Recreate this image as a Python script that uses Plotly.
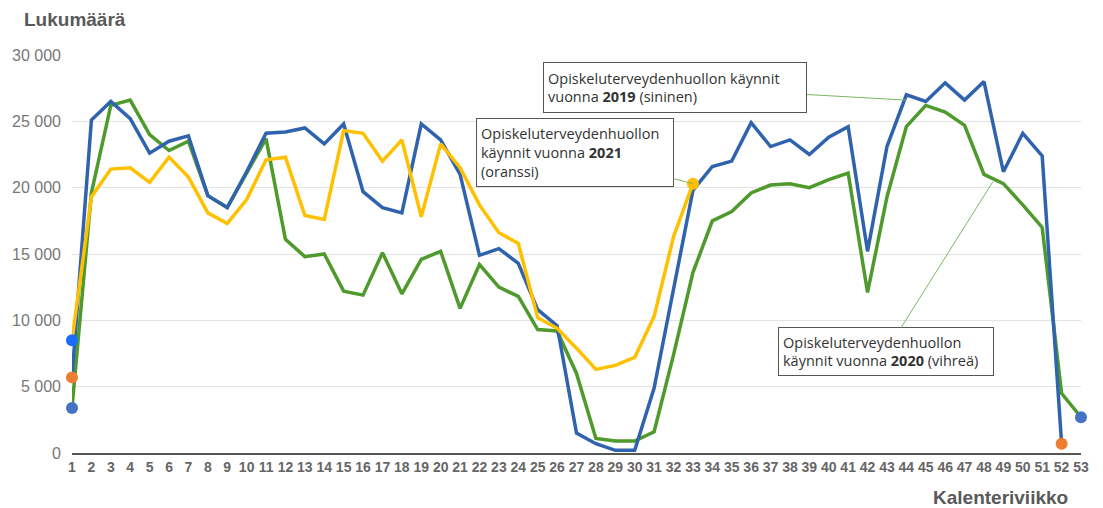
import plotly.graph_objects as go

weeks = list(range(1, 54))
tick_labels = [str(w) for w in weeks]

visits_2019 = [5700, 25100, 26500, 25200, 22600, 23500, 23900, 19400, 18500, 21200,
               24100, 24200, 24500, 23300, 24800, 19700, 18500, 18100, 24800, 23600,
               21000, 14900, 15400, 14300, 10800, 9600, 1500, 700, 200, 200,
               4900, 12300, 19800, 21600, 22000, 24900, 23100, 23600, 22500, 23800,
               24600, 15200, 23100, 27000, 26500, 27900, 26600, 28000, 21200, 24100,
               22400, 700, None]
visits_2020 = [3400, 19600, 26200, 26600, 24000, 22800, 23500, 19400, 18500, 21100,
               23700, 16100, 14800, 15000, 12200, 11900, 15100, 12000, 14600, 15200,
               10900, 14200, 12500, 11800, 9300, 9200, 6000, 1100, 900, 900,
               1600, 7400, 13600, 17500, 18200, 19600, 20200, 20300, 20000, 20600,
               21100, 12100, 19300, 24600, 26200, 25700, 24700, 21000, 20300, 18700,
               17000, 4500, 2700]
visits_2021 = [8500, 19300, 21400, 21500, 20400, 22300, 20800, 18100, 17300, 19100,
               22100, 22300, 17900, 17600, 24300, 24100, 22000, 23600, 17800, 23300,
               21500, 18700, 16600, 15800, 10200, 9400, 7900, 6300, 6600, 7200,
               10300, 16300, 20300] + [None] * 20

y_ticks = [0, 5000, 10000, 15000, 20000, 25000, 30000]
y_tick_labels = ["0", "5 000", "10 000", "15 000", "20 000", "25 000", "30 000"]

C2019 = "#3063ae"
C2020 = "#4f9a2c"
C2021 = "#ffc000"


def ends(vals):
    idx = [i for i, v in enumerate(vals) if v is not None]
    return (weeks[idx[0]], vals[idx[0]]), (weeks[idx[-1]], vals[idx[-1]])


fig = go.Figure()
for vals, col, name in [(visits_2020, C2020, "2020"), (visits_2019, C2019, "2019"),
                        (visits_2021, C2021, "2021")]:
    fig.add_trace(go.Scatter(x=weeks, y=vals, mode="lines", name=name,
                             line=dict(color=col, width=3.5), connectgaps=False,
                             cliponaxis=False, hoverinfo="x+y"))

# end-point dots
(s19, e19) = ends(visits_2019)
(s20, e20) = ends(visits_2020)
(s21, e21) = ends(visits_2021)
dot_pts = [(s21, "#1a6cff"), (s19, "#ed7d31"), (s20, "#4472c4"),
           (e19, "#ed7d31"), (e20, "#4472c4"), (e21, C2021)]
fig.add_trace(go.Scatter(x=[p[0][0] for p in dot_pts], y=[p[0][1] for p in dot_pts],
                         mode="markers", cliponaxis=False, showlegend=False,
                         marker=dict(size=12, color=[p[1] for p in dot_pts])))

box_font = dict(family="Open Sans", size=14.5, color="#333333")
conn = "#7cb860"
anns = [
    dict(x=44, y=26600, ax=-231, ay=-13,
         text="Opiskeluterveydenhuollon käynnit<br>vuonna <b>2019</b> (sininen)",
         width=254, height=41),
    dict(x=33, y=20300, ax=-118, ay=-31,
         text="Opiskeluterveydenhuollon<br>käynnit vuonna <b>2021</b><br>(oranssi)",
         width=188, height=59),
    dict(x=48.46, y=20450, ax=-107, ay=170,
         text="Opiskeluterveydenhuollon<br>käynnit vuonna <b>2020</b> (vihreä)",
         width=206, height=39),
]
annotations = []
for a in anns:
    annotations.append(dict(
        x=a["x"], y=a["y"], xref="x", yref="y", ax=a["ax"], ay=a["ay"],
        axref="pixel", ayref="pixel", showarrow=True, arrowhead=0,
        arrowwidth=1, arrowcolor=conn, text=a["text"], align="left",
        width=a["width"], height=a["height"], font=box_font,
        bgcolor="white", bordercolor="#555555", borderwidth=1, borderpad=4))

annotations.append(dict(text="<b>Lukumäärä</b>", xref="paper", yref="paper",
                        x=-0.0496, y=1.09, xanchor="left", yanchor="middle",
                        showarrow=False,
                        font=dict(family="Liberation Sans", size=19, color="#595959")))
annotations.append(dict(text="<b>Kalenteriviikko</b>", xref="paper", yref="paper",
                        x=0.989, y=-0.1106, xanchor="right", yanchor="middle",
                        showarrow=False,
                        font=dict(family="Liberation Sans", size=19, color="#595959")))

fig.update_layout(
    width=1087, height=500,
    margin=dict(l=64, r=14, t=47, b=55, autoexpand=False),
    paper_bgcolor="white", plot_bgcolor="white",
    showlegend=False,
    annotations=annotations,
    xaxis=dict(range=[1, 53], tickvals=weeks, ticktext=tick_labels, showgrid=False,
               zeroline=False, showline=True, linecolor="#555555", linewidth=2,
               ticks="", tickangle=0, automargin=False,
               tickfont=dict(family="Liberation Sans", size=14, color="#666666",
                             weight="bold")),
    yaxis=dict(range=[0, 30000], tickvals=y_ticks, ticktext=y_tick_labels,
               showgrid=True, gridcolor="#e3e3e3", gridwidth=1, zeroline=False,
               showline=False, ticks="", ticklabelstandoff=10, automargin=False,
               tickfont=dict(family="Liberation Sans", size=16, color="#777777")),
)

fig.write_html("out.html")
